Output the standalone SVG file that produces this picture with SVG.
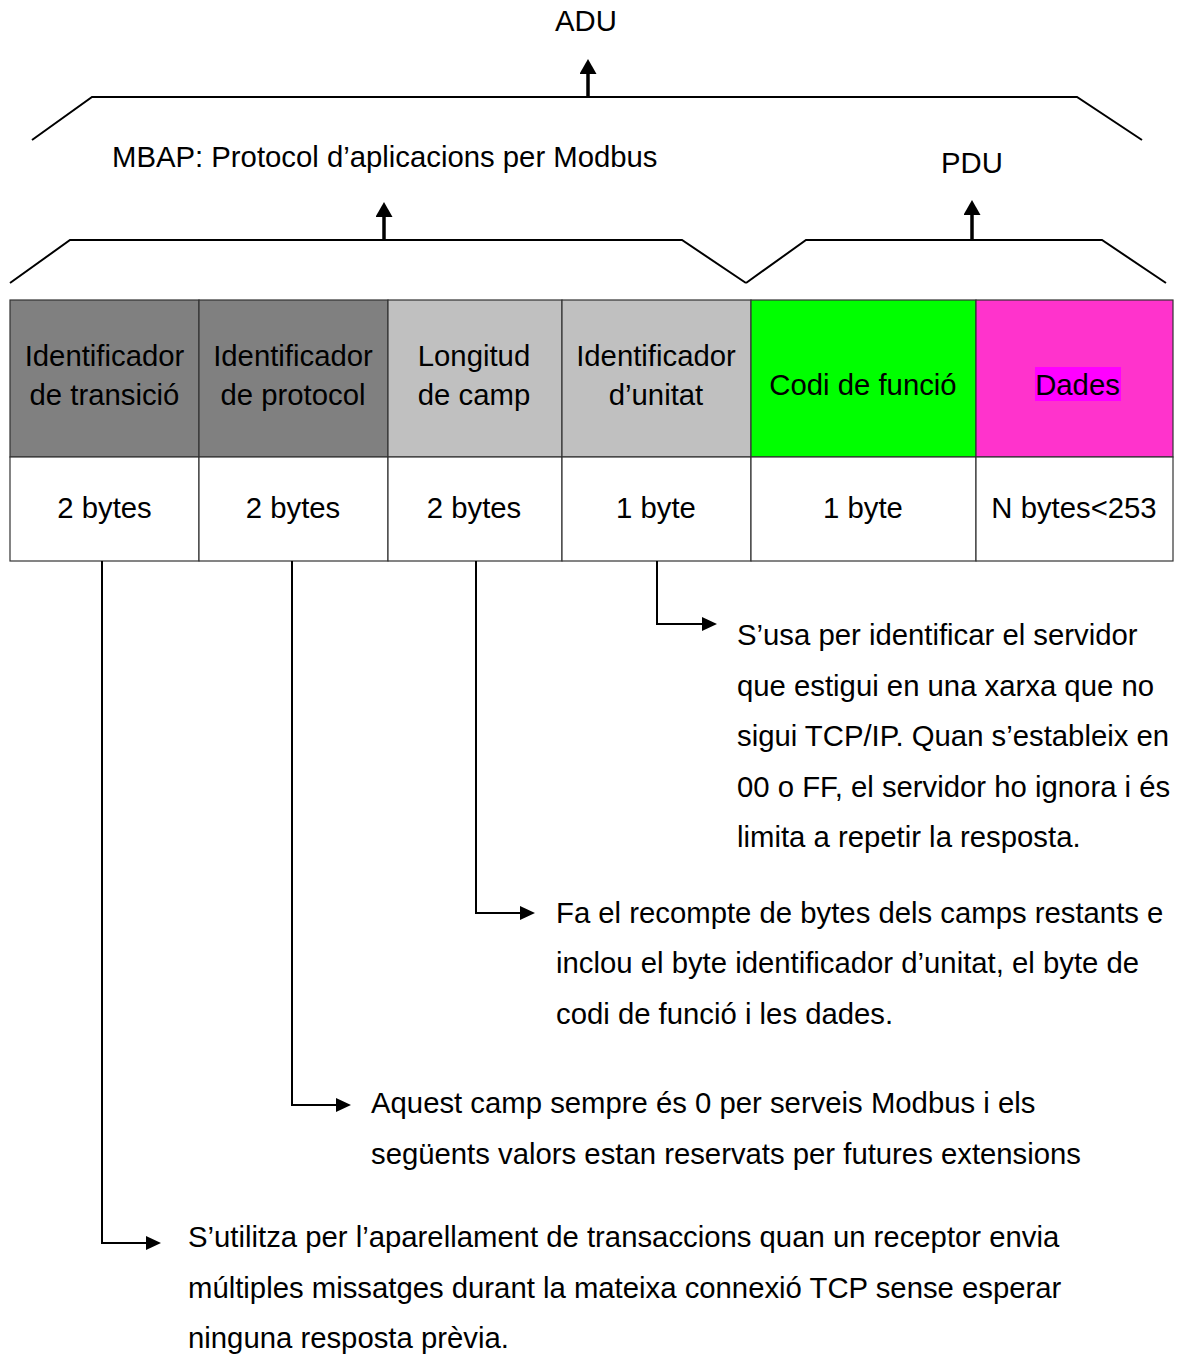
<svg xmlns="http://www.w3.org/2000/svg" width="1177" height="1354" viewBox="0 0 1177 1354">
  <style>
    text { font-family: "Liberation Sans", Arial, sans-serif; font-size: 29.3px; fill: #000; }
    .c { text-anchor: middle; }
    .brace { fill: none; stroke: #000; stroke-width: 2; }
    .shaft { fill: none; stroke: #000; stroke-width: 3.5; }
    .link { fill: none; stroke: #000; stroke-width: 2; }
    .cell { stroke: #333; stroke-width: 1.2; }
    .dark { fill: #808080; }
    .light { fill: #c0c0c0; }
    .green { fill: #00ff00; }
    .pink { fill: #ff33cc; }
    .white { fill: #ffffff; }
  </style>
  <defs>
    <marker id="head" viewBox="0 0 15 14" markerWidth="15" markerHeight="14" refX="0" refY="7" orient="auto" markerUnits="userSpaceOnUse">
      <path d="M0,0 L15,7 L0,14 z" fill="#000"/>
    </marker>
    <marker id="bigHead" viewBox="0 0 15 17" markerWidth="15" markerHeight="17" refX="0" refY="8.5" orient="auto" markerUnits="userSpaceOnUse">
      <path d="M0,0 L15,8.5 L0,17 z" fill="#000"/>
    </marker>
  </defs>
  <rect width="1177" height="1354" fill="#fff"/>

  <!-- grouping braces and labels -->
  <g id="adu">
    <path class="brace" d="M32,140 L92,97 L1077,97 L1142,140"/>
    <path class="shaft" d="M588,97 L588,74" marker-end="url(#bigHead)"/>
    <text class="c" x="586" y="31">ADU</text>
  </g>
  <g id="mbap">
    <path class="brace" d="M10,283 L70,240 L682,240 L746,283"/>
    <path class="shaft" d="M384,240 L384,217" marker-end="url(#bigHead)"/>
    <text x="112" y="167">MBAP: Protocol d’aplicacions per Modbus</text>
  </g>
  <g id="pdu">
    <path class="brace" d="M746,283 L806,240 L1102,240 L1166,283"/>
    <path class="shaft" d="M972,240 L972,215" marker-end="url(#bigHead)"/>
    <text class="c" x="972" y="173">PDU</text>
  </g>

  <!-- frame fields -->
  <g id="field-transaccio">
    <rect class="cell dark" x="10" y="300" width="189" height="157"/>
    <rect class="cell white" x="10" y="457" width="189" height="104"/>
    <text class="c" x="104.5" y="366">Identificador</text>
    <text class="c" x="104.5" y="405">de transició</text>
    <text class="c" x="104.5" y="518">2 bytes</text>
  </g>
  <g id="field-protocol">
    <rect class="cell dark" x="199" y="300" width="189" height="157"/>
    <rect class="cell white" x="199" y="457" width="189" height="104"/>
    <text class="c" x="293" y="366">Identificador</text>
    <text class="c" x="293" y="405">de protocol</text>
    <text class="c" x="293" y="518">2 bytes</text>
  </g>
  <g id="field-longitud">
    <rect class="cell light" x="388" y="300" width="174" height="157"/>
    <rect class="cell white" x="388" y="457" width="174" height="104"/>
    <text class="c" x="474" y="366">Longitud</text>
    <text class="c" x="474" y="405">de camp</text>
    <text class="c" x="474" y="518">2 bytes</text>
  </g>
  <g id="field-unitat">
    <rect class="cell light" x="562" y="300" width="189" height="157"/>
    <rect class="cell white" x="562" y="457" width="189" height="104"/>
    <text class="c" x="656" y="366">Identificador</text>
    <text class="c" x="656" y="405">d’unitat</text>
    <text class="c" x="656" y="518">1 byte</text>
  </g>
  <g id="field-funcio">
    <rect class="cell green" x="751" y="300" width="225" height="157"/>
    <rect class="cell white" x="751" y="457" width="225" height="104"/>
    <text class="c" x="863" y="395">Codi de funció</text>
    <text class="c" x="863" y="518">1 byte</text>
  </g>
  <g id="field-dades">
    <rect class="cell pink" x="976" y="300" width="197" height="157"/>
    <rect class="cell white" x="976" y="457" width="197" height="104"/>
    <rect x="1035" y="367" width="86" height="34" fill="#ff00ff"/>
    <text class="c" x="1077.5" y="395">Dades</text>
    <text class="c" x="1074" y="518">N bytes&lt;253</text>
  </g>

  <!-- connectors from each field to its description -->
  <g id="connectors">
    <path class="link" d="M657,561 L657,624 L702,624" marker-end="url(#head)"/>
    <path class="link" d="M476,561 L476,913 L520,913" marker-end="url(#head)"/>
    <path class="link" d="M292,561 L292,1105 L336,1105" marker-end="url(#head)"/>
    <path class="link" d="M102,561 L102,1243 L146,1243" marker-end="url(#head)"/>
  </g>

  <!-- field descriptions -->
  <g id="desc-unitat">
    <text x="737" y="645">S’usa per identificar el servidor</text>
    <text x="737" y="695.5">que estigui en una xarxa que no</text>
    <text x="737" y="746">sigui TCP/IP. Quan s’estableix en</text>
    <text x="737" y="796.5">00 o FF, el servidor ho ignora i és</text>
    <text x="737" y="847">limita a repetir la resposta.</text>
  </g>
  <g id="desc-longitud">
    <text x="556" y="923">Fa el recompte de bytes dels camps restants e</text>
    <text x="556" y="973">inclou el byte identificador d’unitat, el byte de</text>
    <text x="556" y="1024">codi de funció i les dades.</text>
  </g>
  <g id="desc-protocol">
    <text x="371" y="1113">Aquest camp sempre és 0 per serveis Modbus i els</text>
    <text x="371" y="1164">següents valors estan reservats per futures extensions</text>
  </g>
  <g id="desc-transaccio">
    <text x="188" y="1247">S’utilitza per l’aparellament de transaccions quan un receptor envia</text>
    <text x="188" y="1298">múltiples missatges durant la mateixa connexió TCP sense esperar</text>
    <text x="188" y="1348">ninguna resposta prèvia.</text>
  </g>
</svg>
